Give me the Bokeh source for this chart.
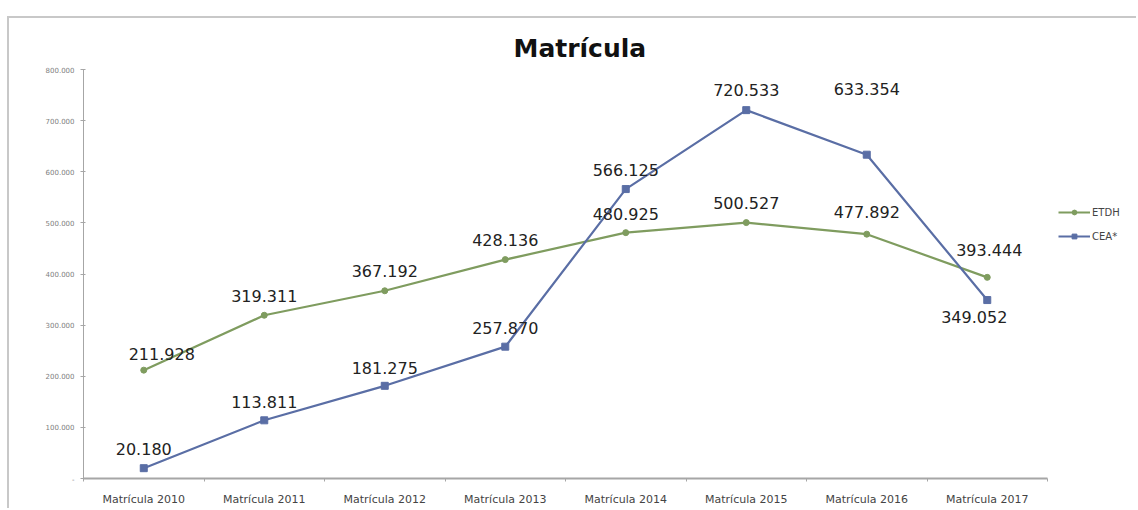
from bokeh.plotting import figure
from bokeh.models import ColumnDataSource, FixedTicker, Legend, LegendItem, Range1d
from bokeh.core.properties import value
from bokeh.embed import file_html
from bokeh.resources import INLINE

# ---- data ----
categories = ["Matrícula 2010", "Matrícula 2011", "Matrícula 2012", "Matrícula 2013",
              "Matrícula 2014", "Matrícula 2015", "Matrícula 2016", "Matrícula 2017"]
etdh = [211928, 319311, 367192, 428136, 480925, 500527, 477892, 393444]
cea = [20180, 113811, 181275, 257870, 566125, 720533, 633354, 349052]
y_ticks = [0, 100000, 200000, 300000, 400000, 500000, 600000, 700000, 800000]
y_tick_labels = ["-", "100.000", "200.000", "300.000", "400.000", "500.000",
                 "600.000", "700.000", "800.000"]

def fmt(v):
    return f"{v:,}".replace(",", ".")

# category slot centres on a numeric axis (labels come from `categories`)
xpos = [i + 0.5 for i in range(len(categories))]
xbounds = list(range(len(categories) + 1))

# label nudges (screen px) - style only
etdh_dx = [18, 0, 0, 0, 0, 0, 0, 2]
etdh_dy = [-16, -19, -20, -20, -19, -20, -22, -27]
cea_dx = [0, 0, 0, 0, 0, 0, 0, -13]
cea_dy = [-19, -18, -18, -19, -19, -20, -66, 17]

GREEN = "#7f9c5f"
BLUE = "#5a6ea5"
FONT = "DejaVu Sans"

src_e = ColumnDataSource(dict(x=xpos, y=etdh, t=[fmt(v) for v in etdh], dx=etdh_dx, dy=etdh_dy))
src_c = ColumnDataSource(dict(x=xpos, y=cea, t=[fmt(v) for v in cea], dx=cea_dx, dy=cea_dy))

W, H = 1136, 508
LEFT, AXIS_END, BOTTOM = 83, 1047, 478
n = len(categories)
x_end = n * (W - LEFT) / (AXIS_END - LEFT)

p = figure(width=W, height=H, output_backend="svg", toolbar_location=None,
           x_range=Range1d(0, x_end), y_range=Range1d(0, 800000),
           min_border_left=LEFT, min_border_right=0, min_border_top=69,
           min_border_bottom=H - BOTTOM,
           styles={"background": "linear-gradient(#c8c8c8,#c8c8c8) 7px 16px/100% 2px no-repeat, "
                                 "linear-gradient(#c8c8c8,#c8c8c8) 7px 16px/2px 100% no-repeat, white"})
p.border_fill_alpha = 0
p.outline_line_color = None
p.grid.visible = False

p.title.text = "Matrícula"
p.title.align = "left"
p.title.offset = 430
p.title.standoff = 14
p.title.text_font = FONT
p.title.text_font_size = "25px"
p.title.text_font_style = "bold"
p.title.text_color = "#111111"

# y axis
p.yaxis.ticker = FixedTicker(ticks=y_ticks)
p.yaxis.major_label_overrides = {t: l for t, l in zip(y_ticks, y_tick_labels)}
p.yaxis.major_label_text_font = FONT
p.yaxis.major_label_text_font_size = "7px"
p.yaxis.major_label_text_color = "#808080"
p.yaxis.axis_line_color = "#a6a6a6"
p.yaxis.major_tick_line_color = "#a6a6a6"
p.yaxis.major_tick_in = 2
p.yaxis.major_tick_out = 3
p.yaxis.minor_tick_line_color = None
p.yaxis.major_label_standoff = 6

# x axis
p.xaxis.ticker = FixedTicker(ticks=xpos, minor_ticks=xbounds)
p.xaxis.major_label_overrides = {x: c for x, c in zip(xpos, categories)}
p.xaxis.bounds = (0, n)
p.xaxis.major_label_text_font = FONT
p.xaxis.major_label_text_font_size = "11px"
p.xaxis.major_label_text_color = "#444444"
p.xaxis.axis_line_color = "#a6a6a6"
p.xaxis.axis_line_width = 2
p.xaxis.major_tick_line_color = None
p.xaxis.minor_tick_line_color = "#a6a6a6"
p.xaxis.minor_tick_in = 0
p.xaxis.minor_tick_out = 3
p.xaxis.major_label_standoff = 8

# series
le = p.line("x", "y", source=src_e, line_color=GREEN, line_width=2.2)
me = p.scatter("x", "y", source=src_e, marker="circle", size=6, fill_color=GREEN, line_color=GREEN)
lc = p.line("x", "y", source=src_c, line_color=BLUE, line_width=2.2)
mc = p.scatter("x", "y", source=src_c, marker="square", size=7, fill_color=BLUE, line_color=BLUE)

for s in (src_e, src_c):
    p.text("x", "y", text="t", source=s, x_offset="dx", y_offset="dy",
           text_align="center", text_baseline="middle",
           text_font=value(FONT), text_font_size="16px", text_color="#222222")

legend = Legend(items=[LegendItem(label="ETDH", renderers=[le, me]),
                       LegendItem(label="CEA*", renderers=[lc, mc])],
                location=(975, 236), label_text_font=FONT, label_text_font_size="10px",
                label_text_color="#444444", glyph_width=32, glyph_height=12,
                label_height=12, label_standoff=2, spacing=12, padding=0, margin=0,
                border_line_color=None, background_fill_alpha=0)
p.add_layout(legend, "center")

open("out.html", "w").write(file_html(p, INLINE))
